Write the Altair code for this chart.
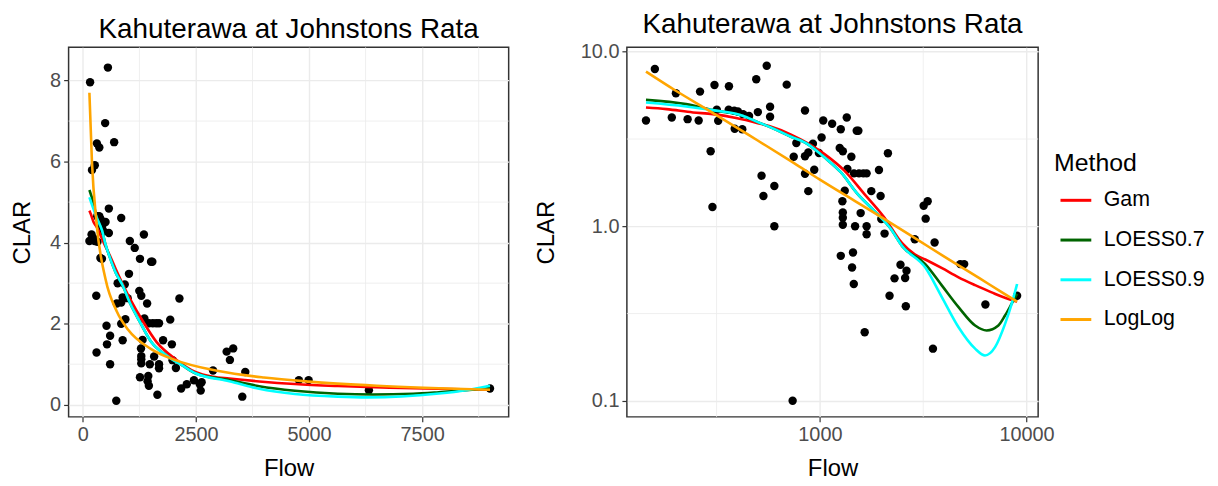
import altair as alt
import pandas as pd

TITLE = "Kahuterawa at Johnstons Rata"

# observed points (Flow, CLAR)
pt_flow = [144, 159, 192, 201, 229, 259, 263, 296, 302, 309, 317, 322, 363, 362, 385, 387,
           401, 421, 425, 454, 492, 501, 522, 533, 553, 574, 574, 602, 602, 691, 738, 747,
           769, 847, 847, 879, 847, 879, 925, 939, 989, 1019, 1038, 1146, 1247, 1262, 1291,
           1262, 1319, 1285, 1291, 1291, 1291, 1349, 1420, 1446, 1431, 1459, 1507, 1535,
           1359, 1462, 1546, 1622, 1683, 1480, 1575, 1647, 1683, 1683, 1773, 1931, 1967,
           1982, 2056, 2134, 2173, 2297, 2455, 2585, 2625, 2605, 2877, 3178, 3323, 3250,
           3590, 3524, 4775, 4990, 6323, 9000]
pt_clar = [4.04, 7.96, 4.2, 5.79, 4.11, 4.04, 5.91, 2.69, 1.29, 6.45, 4.65, 4.02, 6.35, 4.65, 4.59, 3.62,
           4.55, 3.6, 4.39, 4.28, 6.95, 4.51, 1.95, 1.49, 8.32, 4.84, 4.24, 1.70, 1.0, 6.48, 0.1, 2.50,
           3.0, 4.61, 2.52, 2.65, 2.0, 1.59, 2.97, 2.11, 2.63, 3.23, 4.04, 3.87, 2.81, 3.6, 2.69,
           0.677, 1.60, 1.39, 1.20, 1.12, 1.02, 4.2, 2.50, 0.708, 0.581, 0.467, 3.53, 3.53,
           2.13, 2.01, 2.01, 2.01, 2.01, 1.0, 1.19, 0.247, 1.0, 0.90, 1.59, 2.10, 1.49,
           1.10, 0.908, 2.62, 0.40, 0.503, 0.602, 0.505, 0.556, 0.348, 0.843, 1.31, 1.39, 1.106,
           0.807, 0.199, 0.607, 0.607, 0.356, 0.40]

# fitted curves
gam_flow = [144, 181, 243, 303, 393, 501, 568, 725, 1049, 1310, 1635, 2042, 2500, 2877, 3236,
            3900, 4688, 5638, 6778, 8630, 9000]
gam_clar = [4.79, 4.69, 4.49, 4.39, 4.17, 3.90, 3.75, 3.35, 2.60, 2.09, 1.54, 1.13, 0.80, 0.69,
            0.645, 0.575, 0.51, 0.46, 0.418, 0.375, 0.37]

lo7_flow = [144, 225, 303, 423, 501, 578, 725, 872, 1049, 1262, 1517, 1827, 2198, 2500, 3236,
            3897, 4688, 5638, 6412, 7305, 7870, 8472, 9000]
lo7_clar = [5.30, 5.01, 4.63, 4.30, 3.95, 3.69, 3.26, 2.96, 2.49, 2.04, 1.54, 1.23, 0.97, 0.77,
            0.607, 0.457, 0.344, 0.270, 0.253, 0.270, 0.308, 0.36, 0.41]

lo9_flow = [144, 225, 303, 423, 501, 578, 725, 872, 1049, 1262, 1517, 1827, 2198, 2500, 3236,
            3897, 4688, 5638, 6295, 7041, 7872, 8472, 9000]
lo9_clar = [5.12, 4.86, 4.63, 4.30, 3.95, 3.69, 3.26, 2.96, 2.49, 2.04, 1.54, 1.23, 0.97, 0.77,
            0.58, 0.392, 0.264, 0.199, 0.182, 0.203, 0.276, 0.359, 0.467]

ll_flow = [144, 200, 300, 500, 750, 1000, 1500, 2000, 3000, 4000, 5000, 6500, 9000]
ll_clar = [7.7, 6.0, 4.5, 3.1, 2.3, 1.85, 1.38, 1.12, 0.83, 0.67, 0.57, 0.47, 0.37]

methods = ["Gam", "LOESS0.7", "LOESS0.9", "LogLog"]
colors = ["#FF0000", "#006400", "#00FFFF", "#FFA500"]

points = pd.DataFrame({"Flow": pt_flow, "CLAR": pt_clar})
rows = []
for name, fl, vals in zip(methods, [gam_flow, lo7_flow, lo9_flow, ll_flow],
                          [gam_clar, lo7_clar, lo9_clar, ll_clar]):
    for f, v in zip(fl, vals):
        rows.append({"Method": name, "Flow": f, "CLAR": v})
lines = pd.DataFrame(rows)

# axis / grid positions
lin_x_major = [0, 2500, 5000, 7500]
lin_x_minor = [1250, 3750, 6250, 8750]
lin_y_major = [0, 2, 4, 6, 8]
lin_y_minor = [1, 3, 5, 7]
log_x_major = [1000, 10000]
log_x_minor = [316.2, 3162]
log_y_major = [0.1, 1, 10]
log_y_minor = [0.3162, 3.162]

GRID = "#EBEBEB"
FONT = "Liberation Sans"


def axis(vals, title, fmt, tpad):
    return alt.Axis(values=vals, title=title, format=fmt, grid=True, gridColor=GRID, gridWidth=1.4,
                    domain=False, tickColor="#333333", tickSize=5, tickWidth=1.2,
                    labelColor="#4D4D4D", labelFontSize=20, labelPadding=3,
                    titleFontSize=24, titleFontWeight="normal", titleColor="black",
                    titlePadding=tpad, labelFont=FONT, titleFont=FONT)


def panel(xscale, yscale, xmaj, xmin, ymaj, ymin, xfmt, yfmt, w, ytpad):
    xa = axis(xmaj, "Flow", xfmt, 12)
    ya = axis(ymaj, "CLAR", yfmt, ytpad)
    gx = alt.Chart(pd.DataFrame({"Flow": xmin})).mark_rule(color=GRID, strokeWidth=0.8).encode(
        x=alt.X("Flow:Q", scale=xscale, axis=xa))
    gy = alt.Chart(pd.DataFrame({"CLAR": ymin})).mark_rule(color=GRID, strokeWidth=0.8).encode(
        y=alt.Y("CLAR:Q", scale=yscale, axis=ya))
    pts = alt.Chart(points).mark_circle(size=72, color="black", opacity=1).encode(
        x=alt.X("Flow:Q", scale=xscale, axis=xa),
        y=alt.Y("CLAR:Q", scale=yscale, axis=ya))
    ln = alt.Chart(lines).mark_line(strokeWidth=2.6, interpolate="monotone").encode(
        x=alt.X("Flow:Q", scale=xscale, axis=xa),
        y=alt.Y("CLAR:Q", scale=yscale, axis=ya),
        color=alt.Color("Method:N",
                        scale=alt.Scale(domain=methods, range=colors),
                        legend=alt.Legend(title="Method", orient="none", legendX=992, legendY=104,
                                          symbolType="stroke", symbolSize=961, symbolStrokeWidth=3,
                                          symbolOffset=5, labelOffset=11, rowPadding=12,
                                          titlePadding=8, labelFontSize=21.5, titleFontSize=25,
                                          titleFontWeight="normal", labelColor="black",
                                          titleColor="black",
                                          labelFont=FONT, titleFont=FONT, padding=0)))
    return alt.layer(gx, gy, pts, ln).properties(
        width=w, height=372,
        title=alt.TitleParams(TITLE, fontSize=28, fontWeight="normal", font=FONT,
                              color="black", anchor="middle", offset=3))


left = panel(alt.Scale(domain=[-316, 9413], nice=False, zero=False),
             alt.Scale(domain=[-0.3, 8.82], nice=False, zero=False),
             lin_x_major, lin_x_minor, lin_y_major, lin_y_minor, "d", "d", 443, 15)
right = panel(alt.Scale(type="log", domain=[116.4, 11380], nice=False),
              alt.Scale(type="log", domain=[0.0809, 10.6], nice=False),
              log_x_major, log_x_minor, log_y_major, log_y_minor, "d", ".1f", 414, 22)

chart = alt.hconcat(left, right, spacing=23,
                    padding={"left": 2, "top": 0, "right": 5, "bottom": 5}
                    ).resolve_scale(color="shared").configure(
    font=FONT, background="white",
    view=alt.ViewConfig(stroke="#333333", strokeWidth=1.5))

chart.save("out.html", embed_options={"renderer": "svg", "actions": False})
